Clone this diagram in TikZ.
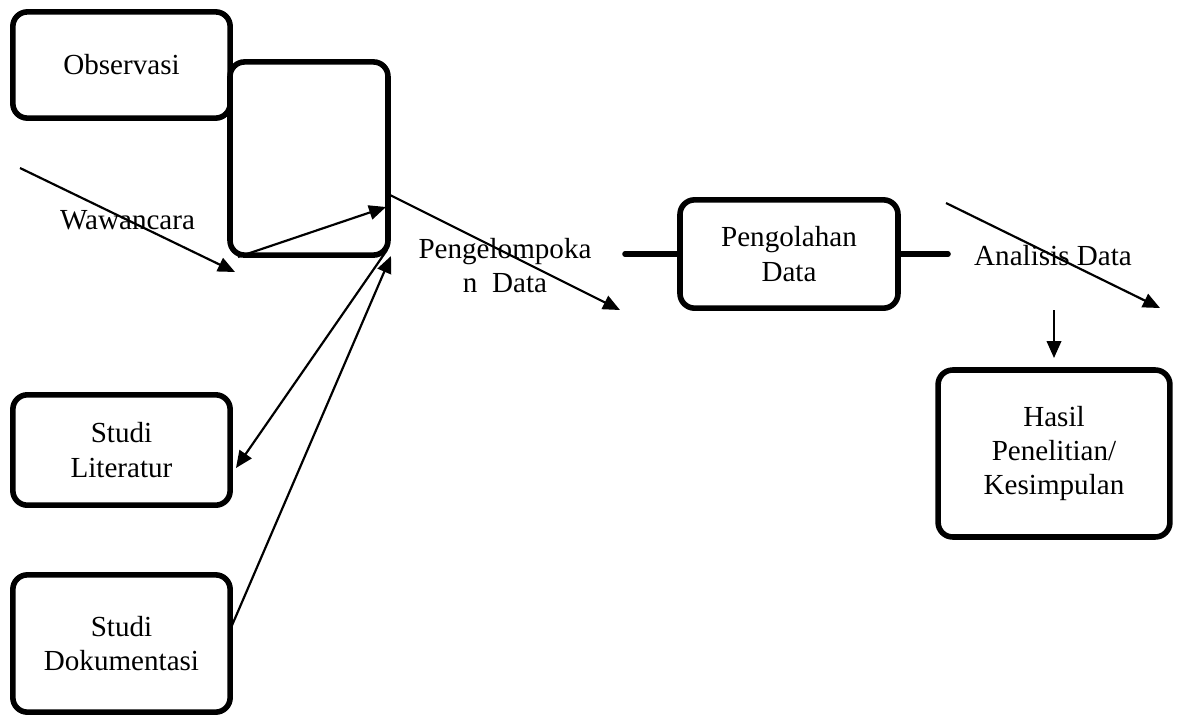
\documentclass[tikz,border=0pt]{standalone}
\usepackage{fontspec}
\setmainfont{Liberation Serif}
\usetikzlibrary{positioning,arrows.meta}

\begin{document}
\begin{tikzpicture}[
  x=0.0145cm, y=-0.0145cm,
  box/.style={draw, line width=2.3pt, rounded corners=6pt, align=center, inner sep=2pt,
    font=\fontsize{12}{14.2}\selectfont},
  lab/.style={align=center, inner sep=0pt, font=\fontsize{12}{14.2}\selectfont},
  arr/.style={-{Triangle[length=7pt,width=6pt]}, line width=0.9pt},
  stub/.style={line width=2.3pt, line cap=round}
]
\useasboundingbox (0,0) rectangle (1183,718);
% sumber data
\node[box, minimum width=3.15cm, minimum height=1.54cm] (obs) at (121.5,65) {Observasi};
\node[box, minimum width=2.29cm, minimum height=2.80cm] (kel) at (309,158.5) {};
\node[box, minimum width=3.15cm, minimum height=1.60cm] (lit) at (121.5,450) {Studi\\Literatur};
\node[box, minimum width=3.15cm, minimum height=1.99cm] (dok) at (121.5,643.5) {Studi\\Dokumentasi};
% proses
\node[box, minimum width=3.16cm, minimum height=1.57cm] (olah) at (789,254) {Pengolahan\\Data};
\node[box, minimum width=3.36cm, minimum height=2.42cm] (hasil) at (1054,453.5) {Hasil\\Penelitian/\\Kesimpulan};
% ujung panah bebas
\coordinate (w1) at (20,168);
\coordinate (w2) at (235,272);
\coordinate (k1) at (238,257);
\coordinate (k2) at (386,207);
\coordinate (l1) at (387,250);
\coordinate (l2) at (236,468);
\coordinate (d1) at (230,630);
\coordinate (d2) at (391,256);
\coordinate (p1) at (390,195);
\coordinate (p2) at (620,310);
\coordinate (s1) at (625,254);
\coordinate (s2) at (948,254);
\coordinate (a1) at (946,203);
\coordinate (a2) at (1160,308);
\coordinate (h1) at (1054,310);
\coordinate (h2) at (1054,358);
\draw[arr] (w1) -- node[lab, midway] {Wawancara} (w2);
\draw[arr] (k1) -- (k2);
\draw[arr] (l1) -- (l2);
\draw[arr] (d1) -- (d2);
\draw[arr] (p1) -- node[lab, midway, yshift=-0.19cm] {Pengelompoka\\n\enspace Data} (p2);
\draw[stub] (s1) -- (olah.west);
\draw[stub] (olah.east) -- (s2);
\draw[arr] (a1) -- node[lab, midway] {Analisis Data} (a2);
\draw[arr] (h1) -- (h2);
\end{tikzpicture}
\end{document}
